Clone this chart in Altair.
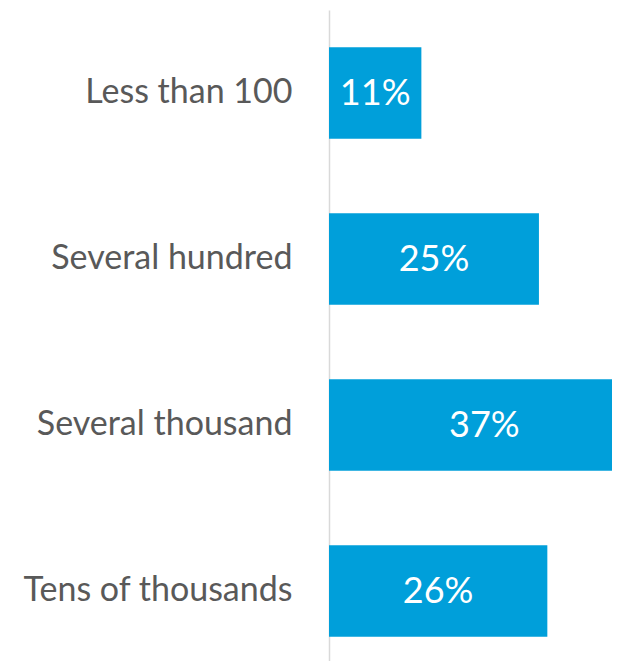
import altair as alt
import pandas as pd

categories = ["Less than 100", "Several hundred", "Several thousand", "Tens of thousands"]
values = [11, 25, 37, 26]

df = pd.DataFrame({"cat": categories, "val": [v / 100 for v in values]})

FONT = "Lato"
XMAX = 0.337
y_enc = alt.Y(
    "cat:N",
    sort=categories,
    scale=alt.Scale(range=[0, 664], paddingInner=0.45, paddingOuter=0.225),
    axis=alt.Axis(
        title=None,
        ticks=False,
        labelFont=FONT,
        labelFontSize=34,
        labelColor="#595959",
        labelPadding=37,
        domainColor="#D9D9D9",
        domainWidth=1.5,
        labelLimit=400,
    ),
)
x_enc = alt.X("val:Q", scale=alt.Scale(domain=[0, XMAX], nice=False), axis=None)

bars = alt.Chart(df).mark_bar(color="#009FDA", clip=True).encode(x=x_enc, y=y_enc)

mid = alt.Chart(df).transform_calculate(
    mid="datum.val / 2"
).mark_text(font=FONT, fontSize=36, color="white", baseline="middle", align="center", dy=1).encode(
    x=alt.X("mid:Q", scale=alt.Scale(domain=[0, XMAX], nice=False), axis=None),
    y=alt.Y("cat:N", sort=categories),
    text=alt.Text("val:Q", format=".0%"),
)

chart = alt.layer(bars, mid).properties(
    width=283,
    height=651,
    autosize=alt.AutoSizeParams(type="none"),
    padding={"left": 321, "top": 2, "right": 0, "bottom": 0},
).configure_view(stroke=None)

chart.save("out.html", embed_options={"renderer": "svg", "actions": False})
